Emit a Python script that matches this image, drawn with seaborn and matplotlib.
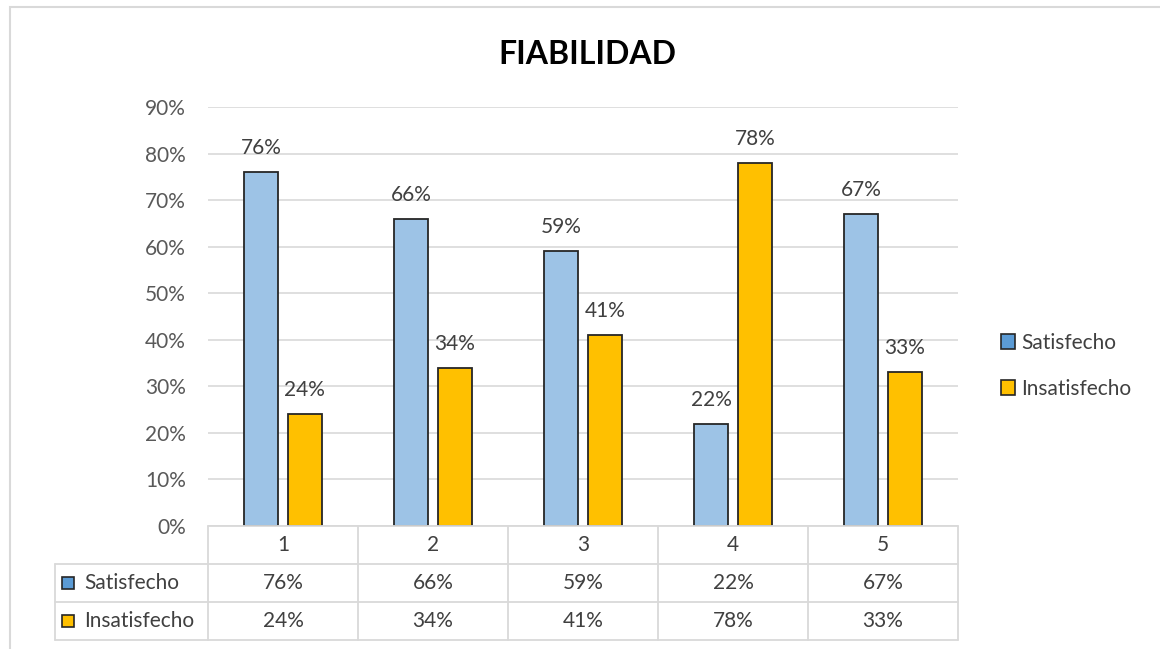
# fiabilidad.py
# Satisfecho / Insatisfecho por pregunta, estilo Excel con tabla de datos

import pandas as pd
import matplotlib.pyplot as plt
import seaborn as sns
from matplotlib.patches import Patch, Rectangle
from matplotlib.transforms import blended_transform_factory
from matplotlib.ticker import PercentFormatter

# datos
preguntas = ["1", "2", "3", "4", "5"]
series = ["Satisfecho", "Insatisfecho"]
satisfecho = [0.76, 0.66, 0.59, 0.22, 0.67]
insatisfecho = [0.24, 0.34, 0.41, 0.78, 0.33]

azul_barra = "#9DC3E6"
azul_leyenda = "#5B9BD5"
amarillo = "#FFC000"
gris_texto = "#404040"
gris_linea = "#D9D9D9"
fs = 15

df = pd.DataFrame({
    "pregunta": preguntas * 2,
    "respuesta": [series[0]] * 5 + [series[1]] * 5,
    "valor": satisfecho + insatisfecho,
})

sns.set_style("white")
plt.rcParams["font.family"] = ["Lato", "DejaVu Sans"]

fig = plt.figure(figsize=(11.6, 6.49), dpi=100)
# marco exterior del grafico
fig.patches.append(Rectangle((10 / 1160, -0.01), 1.2, 1 - 7 / 649 + 0.01,
                             transform=fig.transFigure, fill=False,
                             edgecolor=gris_linea, linewidth=1.5))

ax = fig.add_axes([208 / 1160, 123 / 649, 750 / 1160, 419 / 649])
sns.barplot(data=df, x="pregunta", y="valor", hue="respuesta",
            palette=[azul_barra, amarillo], saturation=1, width=0.58, gap=0.21,
            edgecolor="#262626", linewidth=1.3, legend=False, ax=ax)

for cont, vals in zip(ax.containers, [satisfecho, insatisfecho]):
    ax.bar_label(cont, labels=[f"{v:.0%}" for v in vals], padding=10,
                 fontsize=fs, color=gris_texto)

ax.set_xlim(-0.5, 4.5)
ax.set_ylim(0, 0.9)
ax.set_yticks([i / 10 for i in range(10)])
ax.yaxis.set_major_formatter(PercentFormatter(1.0, decimals=0))
ax.tick_params(axis="y", labelsize=fs, labelcolor="#595959", length=0, pad=16)
ax.set_xticks([])
ax.set_xlabel("")
ax.set_ylabel("")
ax.grid(axis="y", color=gris_linea, linewidth=1.2)
ax.set_axisbelow(True)
sns.despine(ax=ax, left=True, bottom=True)

# tabla de datos debajo del eje
tr = blended_transform_factory(ax.transData, ax.transAxes)
h = 38 / 419
x_izq = -0.5 - (208 - 55) / 150
lk = dict(color=gris_linea, linewidth=1.3, transform=tr, clip_on=False)
ax.plot([-0.5, 4.5], [0, 0], **lk)
for k in range(1, 4):
    ax.plot([x_izq, 4.5], [-k * h, -k * h], **lk)
ax.plot([x_izq, x_izq], [-h, -3 * h], **lk)
for i in range(6):
    ax.plot([i - 0.5, i - 0.5], [0, -3 * h], **lk)

for i, p in enumerate(preguntas):
    ax.text(i, -0.5 * h, p, ha="center", va="center", fontsize=fs,
            color=gris_texto, transform=tr)
filas = [(series[0], satisfecho, azul_leyenda), (series[1], insatisfecho, amarillo)]
for r, (nombre, vals, col) in enumerate(filas):
    y = -(r + 1.5) * h
    ax.plot([-0.5 - (208 - 68.5) / 150], [y], marker="s", ms=9, mfc=col,
            mec="#262626", mew=1.2, transform=tr, clip_on=False)
    ax.text(-0.5 - (208 - 84) / 150, y, nombre, ha="left", va="center",
            fontsize=fs, color=gris_texto, transform=tr)
    for i, v in enumerate(vals):
        ax.text(i, y, f"{v:.0%}", ha="center", va="center", fontsize=fs,
                color=gris_texto, transform=tr)

fig.text(587 / 1160, 1 - 55 / 649, "FIABILIDAD", ha="center", va="center",
         fontsize=23, fontweight="bold", color="#000000")

handles = [Patch(facecolor=azul_leyenda, edgecolor="#262626", linewidth=1.2),
           Patch(facecolor=amarillo, edgecolor="#262626", linewidth=1.2)]
fig.legend(handles, series, loc="center left",
           bbox_to_anchor=(982 / 1160, 1 - 366 / 649), frameon=False,
           fontsize=fs, labelcolor=gris_texto, handlelength=0.7,
           handleheight=0.7, handletextpad=0.3, labelspacing=1.25)

fig.savefig("out.png", dpi=100)
